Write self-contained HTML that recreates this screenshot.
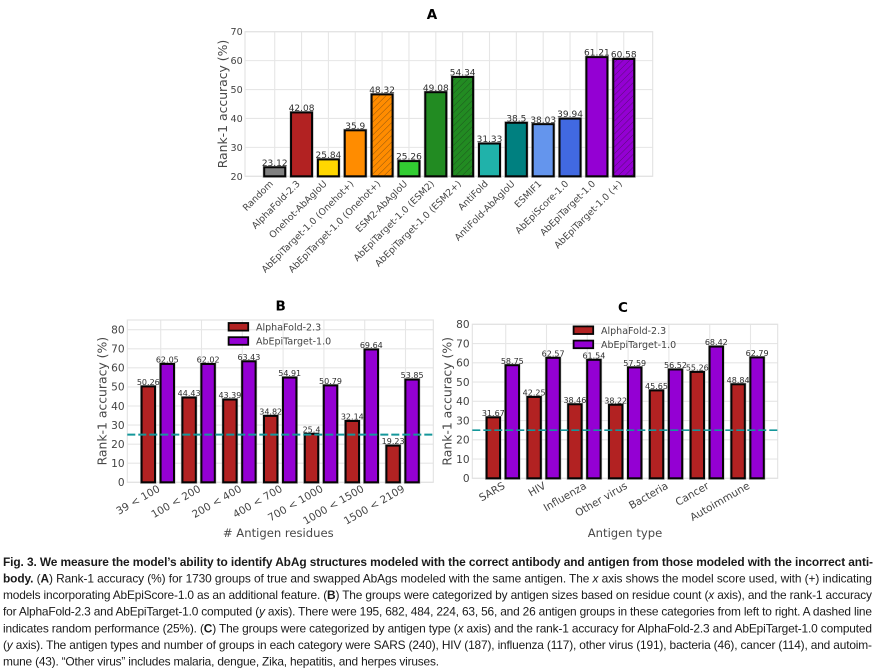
<!DOCTYPE html>
<html lang="en">
<head>
<meta charset="utf-8">
<title>Fig. 3 rank-1 accuracy</title>
<style>
html,body{margin:0;padding:0;background:#fff;}
body{width:877px;height:671px;overflow:hidden;}
svg{display:block;}
.chart text{font-family:"DejaVu Sans","Liberation Sans",sans-serif;}
.tick{fill:#444;}
.val{fill:#2e2e2e;text-anchor:middle;}
.axt{fill:#484848;}
.ttl{fill:#000;font-weight:bold;text-anchor:middle;}
.cap text{font-family:"Liberation Sans",sans-serif;font-size:11.9px;fill:#1a1a1a;}
.cap .b{font-weight:bold;}
.cap .i{font-style:italic;}
.soft{filter:url(#soften);}
</style>
</head>
<body>
<svg id="fig" class="chart" width="877" height="671" viewBox="0 0 877 671" xmlns="http://www.w3.org/2000/svg">
  <defs>
    <pattern id="hatch" patternUnits="userSpaceOnUse" width="4.6" height="4.6" patternTransform="rotate(45)">
      <line x1="0" y1="0" x2="0" y2="4.6" stroke="#1a1a1a" stroke-opacity="0.6" stroke-width="0.8"/>
    </pattern>
    <filter id="soften" filterUnits="userSpaceOnUse" x="0" y="0" width="877" height="671" color-interpolation-filters="sRGB">
      <feGaussianBlur stdDeviation="0.38"/>
    </filter>
  </defs>
  <g id="panelA" class="soft"></g>
  <g id="panelB" class="soft"></g>
  <g id="panelC" class="soft"></g>
  <g class="cap">
    <text class="b" x="3" y="566" textLength="870">Fig. 3. We measure the model’s ability to identify AbAg structures modeled with the correct antibody and antigen from those modeled with the incorrect anti-</text>
    <text x="3" y="582.5" textLength="869"><tspan class="b">body.</tspan> (<tspan class="b">A</tspan>) Rank-1 accuracy (%) for 1730 groups of true and swapped AbAgs modeled with the same antigen. The <tspan class="i">x</tspan> axis shows the model score used, with (+) indicating</text>
    <text x="3" y="599" textLength="869">models incorporating AbEpiScore-1.0 as an additional feature. (<tspan class="b">B</tspan>) The groups were categorized by antigen sizes based on residue count (<tspan class="i">x</tspan> axis), and the rank-1 accuracy</text>
    <text x="3" y="615.7" textLength="869">for AlphaFold-2.3 and AbEpiTarget-1.0 computed (<tspan class="i">y</tspan> axis). There were 195, 682, 484, 224, 63, 56, and 26 antigen groups in these categories from left to right. A dashed line</text>
    <text x="3" y="632.3" textLength="869">indicates random performance (25%). (<tspan class="b">C</tspan>) The groups were categorized by antigen type (<tspan class="i">x</tspan> axis) and the rank-1 accuracy for AlphaFold-2.3 and AbEpiTarget-1.0 computed</text>
    <text x="3" y="649" textLength="869">(<tspan class="i">y</tspan> axis). The antigen types and number of groups in each category were SARS (240), HIV (187), influenza (117), other virus (191), bacteria (46), cancer (114), and autoim-</text>
    <text x="3" y="665.7" textLength="436">mune (43). “Other virus” includes malaria, dengue, Zika, hepatitis, and herpes viruses.</text>
  </g>
</svg>
<script>
// Panel A data
const modelsA = ["Random","AlphaFold-2.3","Onehot-AbAgIoU","AbEpiTarget-1.0 (Onehot+)","AbEpiTarget-1.0 (Onehot+)","ESM2-AbAgIoU","AbEpiTarget-1.0 (ESM2)","AbEpiTarget-1.0 (ESM2+)","AntiFold","AntiFold-AbAgIoU","ESMIF1","AbEpiScore-1.0","AbEpiTarget-1.0","AbEpiTarget-1.0 (+)"];
const accuracyA = [23.12,42.08,25.84,35.9,48.32,25.26,49.08,54.34,31.33,38.5,38.03,39.94,61.21,60.58];
const colorsA = ["#808080","#b22222","#ffd700","#ff8c00","#ff8c00","#32cd32","#228b22","#228b22","#20b2aa","#008080","#6495ed","#4169e1","#9400d3","#9400d3"];
const hatchedA = [false,false,false,false,true,false,false,true,false,false,false,false,false,true];
const yTicksA = [20,30,40,50,60,70];

// Panel B data
const sizeBins = ["39 < 100","100 < 200","200 < 400","400 < 700","700 < 1000","1000 < 1500","1500 < 2109"];
const alphaFoldB = [50.26,44.43,43.39,34.82,25.4,32.14,19.23];
const abEpiTargetB = [62.05,62.02,63.43,54.91,50.79,69.64,53.85];
const yTicksB = [0,10,20,30,40,50,60,70,80];

// Panel C data
const antigenTypes = ["SARS","HIV","Influenza","Other virus","Bacteria","Cancer","Autoimmune"];
const alphaFoldC = [31.67,42.25,38.46,38.22,45.65,55.26,48.84];
const abEpiTargetC = [58.75,62.57,61.54,57.59,56.52,68.42,62.79];
const yTicksC = [0,10,20,30,40,50,60,70,80];

const randomBaseline = 25;

const NS = "http://www.w3.org/2000/svg";
function mk(parent, tag, attrs, text) {
  const el = document.createElementNS(NS, tag);
  for (const k in attrs) el.setAttribute(k, attrs[k]);
  if (text !== undefined) el.textContent = text;
  parent.appendChild(el);
  return el;
}
function slug(s) {
  return String(s).toLowerCase().replace(/[^a-z0-9]+/g, "-").replace(/^-|-$/g, "");
}

function drawFrame(g, box, yTicks, y, tickSize) {
  for (const t of yTicks) {
    const line = mk(g, "line", {x1: box.l, x2: box.r, y1: y(t), y2: y(t), stroke: "#e6e6e6", "stroke-width": 1.1});
    
    
    const label = mk(g, "text", {class: "tick", x: box.tickX, y: y(t) + tickSize * 0.36, "text-anchor": "end", "font-size": tickSize}, t);
    
    
  }
}
function drawBorder(g, box) {
  const frame = mk(g, "rect", {x: box.l, y: box.t, width: box.r - box.l, height: box.b - box.t, fill: "none", stroke: "#e2e2e2", "stroke-width": 1.1});
  
  
}
function drawBar(g, cx, w, top, bottom, fill, hatched, name) {
  const halo = mk(g, "rect", {x: cx - w / 2, y: top, width: w, height: bottom - top, fill: "none", stroke: "#999", "stroke-width": 3.2, "stroke-opacity": 0.55});
  
  
  const bar = mk(g, "rect", {x: cx - w / 2, y: top, width: w, height: bottom - top, fill: fill, stroke: "#050505", "stroke-width": 2});
  
  
  if (hatched) {
    const h = mk(g, "rect", {x: cx - w / 2 + 1, y: top + 1, width: w - 2, height: bottom - top - 2, fill: "url(#hatch)"});
    
    
  }
}
function drawValue(g, cx, top, size, v, name) {
  const t = mk(g, "text", {class: "val", x: cx, y: top - 1.4, "font-size": size}, v);
  
  
}
function drawYTitle(g, x, cy, size) {
  const t = mk(g, "text", {class: "axt", x: x, y: cy, "font-size": size, "text-anchor": "middle", transform: "rotate(-90 " + x + " " + cy + ")"}, "Rank-1 accuracy (%)");
  
  
}

/* Panel A */
(function () {
  const g = document.getElementById("panelA");
  const box = {l: 245, r: 652.7, t: 31.7, b: 176.3, tickX: 242.7};
  const y = v => box.b - (v - 20) * (box.b - box.t) / 50;
  const x = i => 274.7 + i * 26.85;
  drawFrame(g, box, yTicksA, y, 9.6);
  modelsA.forEach((m, i) => {
    const line = mk(g, "line", {x1: x(i), x2: x(i), y1: box.t, y2: box.b, stroke: "#e6e6e6", "stroke-width": 1.1});
    
    
  });
  drawBorder(g, box);
  modelsA.forEach((m, i) => {
    drawBar(g, x(i), 21, y(accuracyA[i]), box.b, colorsA[i], hatchedA[i], 'bar-' + slug(m));
  });
  modelsA.forEach((m, i) => {
    drawValue(g, x(i), y(accuracyA[i]), 9, accuracyA[i], 'value-label-' + slug(m));
    const ex = x(i) - 1;
    const ey = box.b + 8;
    const t = mk(g, "text", {class: "tick", x: ex, y: ey, "font-size": 9.3, "text-anchor": "end", transform: "rotate(-45 " + ex + " " + ey + ")"}, m);
    
    
  });
  drawYTitle(g, 227, 104, 12.4);
  const title = mk(g, "text", {class: "ttl", x: 432, y: 19, "font-size": 13.5}, "A");
  
  
})();

/* Panels B and C */
function drawGrouped(g, cfg) {
  const box = cfg.box;
  const y = v => box.b - v * cfg.unit;
  const xg = i => cfg.x0 + i * 40.8;
  drawFrame(g, box, cfg.yTicks, y, 10.6);
  cfg.cats.forEach((c, i) => {
    const line = mk(g, "line", {x1: xg(i) + 12.4, x2: xg(i) + 12.4, y1: box.t, y2: box.b, stroke: "#e6e6e6", "stroke-width": 1.1});
    
    
  });
  drawBorder(g, box);
  cfg.cats.forEach((c, i) => {
    drawBar(g, xg(i), 13.4, y(cfg.af[i]), box.b, "#b22222", false, 'bar-alphafold-' + slug(c));
    drawBar(g, xg(i) + 19, 13.4, y(cfg.ae[i]), box.b, "#9400d3", false, 'bar-abepitarget-' + slug(c));
  });
  const base = mk(g, "line", {x1: box.l, x2: box.r, y1: y(randomBaseline), y2: y(randomBaseline), stroke: "#14979a", "stroke-width": cfg.dashW, "stroke-dasharray": "8 3"});
  
  
  cfg.cats.forEach((c, i) => {
    drawValue(g, xg(i), y(cfg.af[i]), 8, cfg.af[i], 'value-label-alphafold-' + slug(c));
    drawValue(g, xg(i) + 19, y(cfg.ae[i]), 8, cfg.ae[i], 'value-label-abepitarget-' + slug(c));
    const ex = xg(i) + 12.4;
    const ey = box.b + cfg.labelDrop;
    const t = mk(g, "text", {class: "tick", x: ex, y: ey, "font-size": 10.4, "text-anchor": "end", transform: "rotate(-30 " + ex + " " + ey + ")"}, c);
    
    
  });
  drawYTitle(g, cfg.yTitleX, (box.t + box.b) / 2, 12.4);
  const xl = mk(g, "text", {class: "axt", x: cfg.xTitleX, y: 537, "font-size": 11.6, "text-anchor": "middle"}, cfg.xTitle);
  
  
  const title = mk(g, "text", {class: "ttl", x: cfg.titleX, y: cfg.titleY, "font-size": 13.5}, cfg.title);
  
  

  const legend = mk(g, "g", {});
  
  
  [["AlphaFold-2.3", "#b22222", cfg.legY], ["AbEpiTarget-1.0", "#9400d3", cfg.legY + 14.2]].forEach(e => {
    const swatch = mk(legend, "rect", {x: cfg.legX, y: e[2], width: 19.6, height: 7.6, fill: e[1], stroke: "#050505", "stroke-width": 1.8});
    
    
    const label = mk(legend, "text", {class: "tick", x: cfg.legX + 27.4, y: e[2] + 7.4, "font-size": 9.5}, e[0]);
    
    
  });
}

drawGrouped(document.getElementById("panelB"), {
  box: {l: 127.3, r: 433.3, t: 320, b: 482.3, tickX: 124.6},
  unit: 152.6 / 80, x0: 148.3, cats: sizeBins, af: alphaFoldB, ae: abEpiTargetB, yTicks: yTicksB,
  dashW: 2.1, labelDrop: 8.5, yTitleX: 106.7, xTitle: "# Antigen residues", xTitleX: 278.3,
  title: "B", titleX: 280.7, titleY: 310.5, legX: 228.6, legY: 323
});
drawGrouped(document.getElementById("panelC"), {
  box: {l: 472.3, r: 777.7, t: 324.3, b: 478.3, tickX: 469.6},
  unit: 154 / 80, x0: 493.3, cats: antigenTypes, af: alphaFoldC, ae: abEpiTargetC, yTicks: yTicksC,
  dashW: 1.7, labelDrop: 9.5, yTitleX: 451.7, xTitle: "Antigen type", xTitleX: 625,
  title: "C", titleX: 623, titleY: 312, legX: 573.6, legY: 326.4
});
</script>
</body>
</html>
